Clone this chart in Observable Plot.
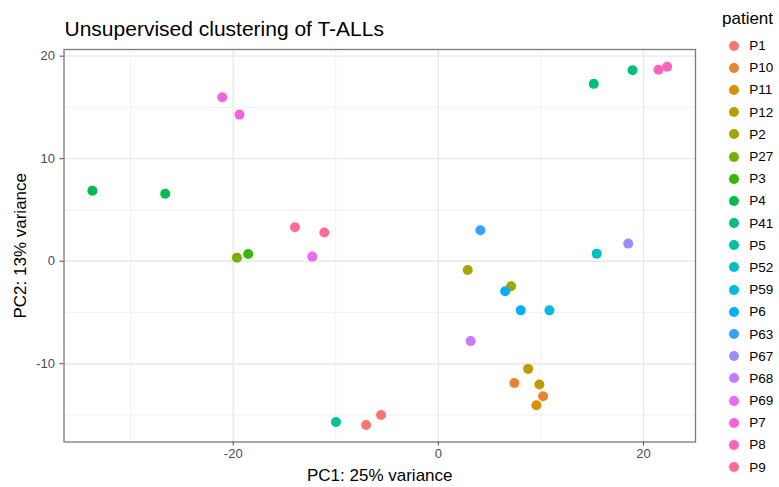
<!DOCTYPE html>
<html>
<head>
<meta charset="utf-8">
<script src="https://cdn.jsdelivr.net/npm/d3@7"></script>
<script src="https://cdn.jsdelivr.net/npm/@observablehq/plot@0.6"></script>
<style>
  html, body { margin: 0; padding: 0; background: #fff; }
  #wrap { position: relative; width: 779px; height: 487px; font-family: "Liberation Sans", Arial, sans-serif; }
  #chart { position: absolute; left: 0; top: 0; }
  #legend { position: absolute; left: 722px; top: 8px; color: #000; }
  #legend .ttl { font-size: 17px; height: 22px; line-height: 22px; margin-bottom: 4.5px; }
  #legend .row { display: flex; align-items: center; height: 22.2px; font-size: 13.5px; }
  #legend .key { width: 10px; height: 10px; border-radius: 50%; margin-left: 7.3px; margin-right: 10px; }
</style>
</head>
<body>
<div id="wrap"><div id="chart"></div><div id="legend"></div></div>
<script>
const titleText = "Unsupervised clustering of T-ALLs";
const xLabel = "PC1: 25% variance";
const yLabel = "PC2: 13% variance";
const legendTitle = "patient";

const patients = ["P1","P10","P11","P12","P2","P27","P3","P4","P41","P5","P52","P59","P6","P63","P67","P68","P69","P7","P8","P9"];
const colors = ["#F8766D","#EA8331","#D89000","#C09B00","#A3A500","#7CAE00","#39B600","#00BB4E","#00BF7D","#00C1A3","#00BFC4","#00BAE0","#00B0F6","#35A2FF","#9590FF","#C77CFF","#E76BF3","#FA62DB","#FF62BC","#FF6C91"];

const samplePatient = ["P4","P4","P7","P7","P9","P9","P69","P27","P3","P41","P41","P8","P8","P63","P52","P67","P2","P2","P6","P6","P59","P68","P12","P10","P12","P10","P11","P5","P1","P1"];
const pc1 = [-33.73,-26.63,-21.07,-19.39,-13.98,-11.12,-12.29,-19.64,-18.54,15.15,18.93,21.46,22.31,4.10,15.44,18.51,2.86,7.09,6.51,8.03,10.83,3.15,8.75,7.41,9.85,10.21,9.56,-9.98,-7.05,-5.59];
const pc2 = [6.87,6.58,15.99,14.30,3.32,2.80,0.45,0.35,0.71,17.30,18.63,18.67,18.96,3.03,0.74,1.72,-0.85,-2.44,-2.93,-4.79,-4.79,-7.79,-10.50,-11.87,-12.02,-13.17,-14.05,-15.68,-15.97,-15.00];

const xMajor = [-20, 0, 20];
const xMinor = [-30, -10, 10];
const yMajor = [-10, 0, 10, 20];
const yMinor = [-15, -5, 5, 15];

const data = samplePatient.map((p, i) => ({patient: p, pc1: pc1[i], pc2: pc2[i]}));

const font = "'Liberation Sans', Arial, sans-serif";
const fmt = d => String(d);

const plot = Plot.plot({
  width: 779,
  height: 487,
  marginLeft: 63.5,
  marginRight: 84,
  marginTop: 49,
  marginBottom: 45.5,
  style: {fontFamily: font, background: "white"},
  x: {domain: [-36.5, 25.07]},
  y: {domain: [-17.63, 20.65]},
  color: {domain: patients, range: colors},
  marks: [
    Plot.ruleX(xMinor, {stroke: "#ebebeb", strokeWidth: 0.7}),
    Plot.ruleY(yMinor, {stroke: "#ebebeb", strokeWidth: 0.7}),
    Plot.ruleX(xMajor, {stroke: "#e8e8e8", strokeWidth: 1.3}),
    Plot.ruleY(yMajor, {stroke: "#e8e8e8", strokeWidth: 1.3}),
    Plot.frame({stroke: "#7a7a7a", strokeWidth: 1.3}),
    Plot.axisX(xMajor, {tickSize: 4, tickPadding: 3, fontSize: 13, color: "#4d4d4d", label: null, tickFormat: fmt}),
    Plot.axisY(yMajor, {tickSize: 4, tickPadding: 5, fontSize: 13, color: "#4d4d4d", label: null, tickFormat: fmt}),
    Plot.dot(data, {x: "pc1", y: "pc2", fill: "patient", r: 5}),
    Plot.text([titleText], {text: d => d, frameAnchor: "top-left", textAnchor: "start", lineAnchor: "middle", dy: -20, dx: 0.5, fontSize: 21, fill: "black"}),
    Plot.text([xLabel], {text: d => d, frameAnchor: "bottom", textAnchor: "middle", lineAnchor: "middle", dy: 33.5, fontSize: 17, fill: "black"}),
    Plot.text([yLabel], {text: d => d, frameAnchor: "left", textAnchor: "middle", lineAnchor: "middle", rotate: -90, dx: -43.5, fontSize: 17, fill: "black"})
  ]
});
document.getElementById("chart").appendChild(plot);

const color = plot.scale("color");
const legend = document.getElementById("legend");
const t = document.createElement("div");
t.className = "ttl";
t.textContent = legendTitle;
legend.appendChild(t);
for (const p of patients) {
  const row = document.createElement("div");
  row.className = "row";
  const k = document.createElement("span");
  k.className = "key";
  k.style.background = color.apply(p);
  const l = document.createElement("span");
  l.textContent = p;
  row.appendChild(k);
  row.appendChild(l);
  legend.appendChild(row);
}
</script>
</body>
</html>
